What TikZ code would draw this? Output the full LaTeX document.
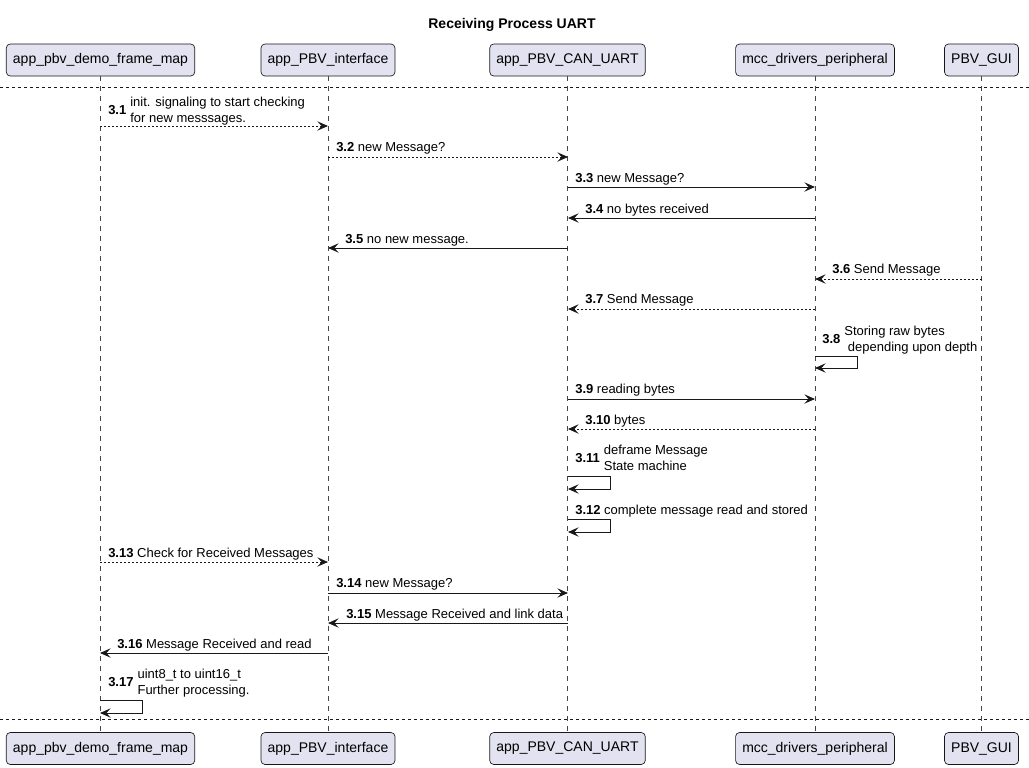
\documentclass[tikz,border=0pt]{standalone}
\usepackage{fontspec}
\setmainfont{Liberation Sans}
\usetikzlibrary{arrows.meta}
\definecolor{ln}{HTML}{181818}
\definecolor{pfill}{HTML}{E2E2F0}
\begin{document}
\begin{tikzpicture}[x=0.75pt,y=-0.75pt,
  participant/.style={draw=ln, line width=0.5pt, fill=pfill, rounded corners=3pt,
    minimum height=24pt, inner xsep=5pt, font=\fontsize{10.5}{12}\selectfont},
  lifeline/.style={draw=ln!80, line width=0.5pt, dash pattern=on 3.75pt off 3.75pt},
  sep/.style={draw=ln, line width=0.6pt, dash pattern=on 2.25pt off 2.25pt},
  msg/.style={draw=ln, line width=0.75pt, -{Stealth[length=8pt,width=7pt,inset=3.2pt]}},
  async/.style={msg, dash pattern=on 1.5pt off 1.5pt},
  lbl/.style={font=\fontsize{9.75}{12}\selectfont, inner sep=0pt, anchor=west, align=left},
  ttl/.style={font=\fontsize{10.5}{12}\selectfont\bfseries, inner sep=0pt}]
\useasboundingbox (0,0) rectangle (1029,768);
\node[ttl] (title) at (512,25) {Receiving Process UART};
% participants
\node[participant] (A) at (100.5,60) {app\_pbv\_demo\_frame\_map};
\node[participant] (B) at (328,60) {app\_PBV\_interface};
\node[participant] (C) at (567.5,60) {app\_PBV\_CAN\_UART};
\node[participant] (D) at (815,60) {mcc\_drivers\_peripheral};
\node[participant] (E) at (981.5,60) {PBV\_GUI};
\node[participant] (A2) at (100.5,748.5) {app\_pbv\_demo\_frame\_map};
\node[participant] (B2) at (328,748.5) {app\_PBV\_interface};
\node[participant] (C2) at (567.5,748.5) {app\_PBV\_CAN\_UART};
\node[participant] (D2) at (815,748.5) {mcc\_drivers\_peripheral};
\node[participant] (E2) at (981.5,748.5) {PBV\_GUI};
\foreach \t/\b in {A/A2,B/B2,C/C2,D/D2,E/E2} \draw[lifeline] (\t.south) -- (\b.north);
% separators
\coordinate (s1a) at (0,87); \coordinate (s1b) at (1029,87);
\coordinate (s2a) at (0,719); \coordinate (s2b) at (1029,719);
\draw[sep] (s1a) -- (s1b);
\draw[sep] (s2a) -- (s2b);
% 3.1
\coordinate (m1a) at (100,126); \coordinate (m1b) at (328,126);
\draw[async] (m1a) -- (m1b);
\node[lbl] (l1) at (108,111.5) {\textbf{3.1}\hspace{3pt}\begin{tabular}{@{}l@{}}init. signaling to start checking\\for new messsages.\end{tabular}};
% 3.2
\coordinate (m2a) at (328,157); \coordinate (m2b) at (568,157);
\draw[async] (m2a) -- (m2b);
\node[lbl] (l2) at (336,148.5) {\textbf{3.2} new Message?};
% 3.3
\coordinate (m3a) at (568,187); \coordinate (m3b) at (815,187);
\draw[msg] (m3a) -- (m3b);
\node[lbl] (l3) at (575,179.5) {\textbf{3.3} new Message?};
% 3.4
\coordinate (m4a) at (815,218); \coordinate (m4b) at (568,218);
\draw[msg] (m4a) -- (m4b);
\node[lbl] (l4) at (585,210.5) {\textbf{3.4} no bytes received};
% 3.5
\coordinate (m5a) at (568,248); \coordinate (m5b) at (328,248);
\draw[msg] (m5a) -- (m5b);
\node[lbl] (l5) at (345,240.5) {\textbf{3.5} no new message.};
% 3.6
\coordinate (m6a) at (982,279); \coordinate (m6b) at (815,279);
\draw[async] (m6a) -- (m6b);
\node[lbl] (l6) at (832,270.5) {\textbf{3.6} Send Message};
% 3.7
\coordinate (m7a) at (815,309); \coordinate (m7b) at (568,309);
\draw[async] (m7a) -- (m7b);
\node[lbl] (l7) at (585,300.5) {\textbf{3.7} Send Message};
% 3.8
\coordinate (m8a) at (815,356); \coordinate (m8b) at (815,368);
\draw[msg] (m8a) -- (857,356) -- (857,368) -- (m8b);
\node[lbl] (l8) at (822,340.5) {\textbf{3.8}\hspace{3pt}\begin{tabular}{@{}l@{}}Storing raw bytes\\\ depending upon depth\end{tabular}};
% 3.9
\coordinate (m9a) at (568,399); \coordinate (m9b) at (815,399);
\draw[msg] (m9a) -- (m9b);
\node[lbl] (l9) at (575,390.5) {\textbf{3.9} reading bytes};
% 3.10
\coordinate (m10a) at (815,429); \coordinate (m10b) at (568,429);
\draw[async] (m10a) -- (m10b);
\node[lbl] (l10) at (585,421.5) {\textbf{3.10} bytes};
% 3.11
\coordinate (m11a) at (568,476); \coordinate (m11b) at (568,489);
\draw[msg] (m11a) -- (610,476) -- (610,489) -- (m11b);
\node[lbl] (l11) at (575,459.5) {\textbf{3.11}\hspace{3pt}\begin{tabular}{@{}l@{}}deframe Message\\State machine\end{tabular}};
% 3.12
\coordinate (m12a) at (568,519); \coordinate (m12b) at (568,532);
\draw[msg] (m12a) -- (610,519) -- (610,532) -- (m12b);
\node[lbl] (l12) at (575,511.5) {\textbf{3.12} complete message read and stored};
% 3.13
\coordinate (m13a) at (100,562); \coordinate (m13b) at (328,562);
\draw[async] (m13a) -- (m13b);
\node[lbl] (l13) at (108,554.5) {\textbf{3.13} Check for Received Messages};
% 3.14
\coordinate (m14a) at (328,593); \coordinate (m14b) at (568,593);
\draw[msg] (m14a) -- (m14b);
\node[lbl] (l14) at (336,584.5) {\textbf{3.14} new Message?};
% 3.15
\coordinate (m15a) at (568,623); \coordinate (m15b) at (328,623);
\draw[msg] (m15a) -- (m15b);
\node[lbl] (l15) at (346,615.5) {\textbf{3.15} Message Received and link data};
% 3.16
\coordinate (m16a) at (328,653); \coordinate (m16b) at (100,653);
\draw[msg] (m16a) -- (m16b);
\node[lbl] (l16) at (117,645.5) {\textbf{3.16} Message Received and read};
% 3.17
\coordinate (m17a) at (100,700); \coordinate (m17b) at (100,713);
\draw[msg] (m17a) -- (142,700) -- (142,713) -- (m17b);
\node[lbl] (l17) at (108,683.5) {\textbf{3.17}\hspace{3pt}\begin{tabular}{@{}l@{}}uint8\_t to uint16\_t\\Further processing.\end{tabular}};
\end{tikzpicture}
\end{document}
